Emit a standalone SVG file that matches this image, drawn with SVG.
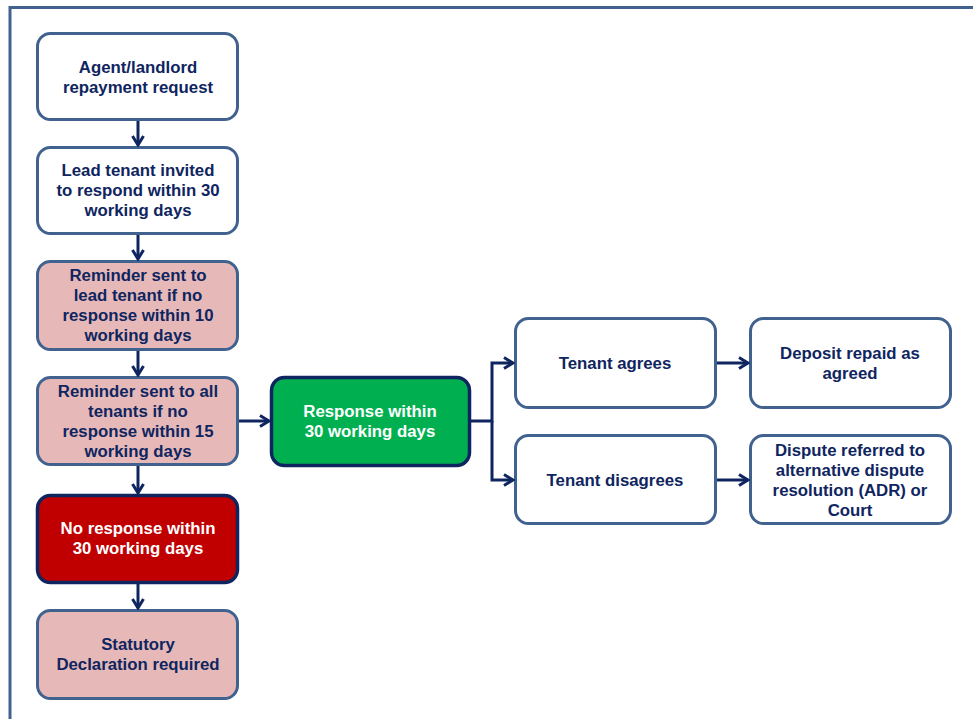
<svg xmlns="http://www.w3.org/2000/svg" width="973" height="719" viewBox="0 0 973 719">
<defs>
<style>
.n{stroke:#41628F;stroke-width:3}
.w{fill:#FFFFFF}
.p{fill:#E6B9B8}
.d{stroke:#0F2560;stroke-width:3.5}
.t{font-family:"Liberation Sans",Arial,sans-serif;font-weight:bold;font-size:16.8px;fill:#0F2560;text-anchor:middle}
.tw{fill:#FFFFFF}
.c{fill:none;stroke:#0F2560;stroke-width:3}
</style>
<marker id="ah" viewBox="0 0 14 14" refX="12" refY="7" markerWidth="14" markerHeight="14" markerUnits="userSpaceOnUse" orient="auto">
<path d="M3,1.5 L12,7 L3,12.5" fill="none" stroke="#0F2560" stroke-width="3"/>
</marker>
</defs>
<rect width="973" height="719" fill="#FFFFFF"/>
<path d="M10,719 V7.5 H973" fill="none" stroke="#41628F" stroke-width="3"/>

<g id="n1"><rect class="n w" x="37.5" y="33.5" width="200" height="86" rx="13"/>
<text class="t" x="138" y="73">Agent/landlord</text><text class="t" x="138" y="93">repayment request</text></g>

<g id="n2"><rect class="n w" x="37.5" y="147.5" width="200" height="86" rx="13"/>
<text class="t" x="138" y="176">Lead tenant invited</text><text class="t" x="138" y="196">to respond within 30</text><text class="t" x="138" y="216">working days</text></g>

<g id="n3"><rect class="n p" x="37.5" y="261.5" width="200" height="88" rx="13"/>
<text class="t" x="138" y="281">Reminder sent to</text><text class="t" x="138" y="301">lead tenant if no</text><text class="t" x="138" y="321">response within 10</text><text class="t" x="138" y="341">working days</text></g>

<g id="n4"><rect class="n p" x="37.5" y="377.5" width="200" height="87" rx="13"/>
<text class="t" x="138" y="397">Reminder sent to all</text><text class="t" x="138" y="417">tenants if no</text><text class="t" x="138" y="437">response within 15</text><text class="t" x="138" y="457">working days</text></g>

<g id="n5"><rect class="d" fill="#C00000" x="37.5" y="495.5" width="200" height="87" rx="13"/>
<text class="t tw" x="138" y="534">No response within</text><text class="t tw" x="138" y="554">30 working days</text></g>

<g id="n6"><rect class="n p" x="37.5" y="610.5" width="200" height="88" rx="13"/>
<text class="t" x="138" y="650">Statutory</text><text class="t" x="138" y="670">Declaration required</text></g>

<g id="n7"><rect class="d" fill="#00B050" x="271.5" y="377.5" width="198" height="88" rx="13"/>
<text class="t tw" x="370" y="417">Response within</text><text class="t tw" x="370" y="437">30 working days</text></g>

<g id="n8"><rect class="n w" x="515.5" y="318.5" width="200" height="89" rx="13"/>
<text class="t" x="615" y="369">Tenant agrees</text></g>

<g id="n9"><rect class="n w" x="515.5" y="435.5" width="200" height="88" rx="13"/>
<text class="t" x="615" y="486">Tenant disagrees</text></g>

<g id="n10"><rect class="n w" x="750.5" y="318.5" width="200" height="89" rx="13"/>
<text class="t" x="850" y="359">Deposit repaid as</text><text class="t" x="850" y="379">agreed</text></g>

<g id="n11"><rect class="n w" x="750.5" y="435.5" width="200" height="88" rx="13"/>
<text class="t" x="850" y="456">Dispute referred to</text><text class="t" x="850" y="476">alternative dispute</text><text class="t" x="850" y="496">resolution (ADR) or</text><text class="t" x="850" y="516">Court</text></g>

<g id="connectors">
<path class="c" d="M138,121 V145" marker-end="url(#ah)"/>
<path class="c" d="M138,235 V259" marker-end="url(#ah)"/>
<path class="c" d="M138,351 V375" marker-end="url(#ah)"/>
<path class="c" d="M138,466 V493" marker-end="url(#ah)"/>
<path class="c" d="M138,584 V608" marker-end="url(#ah)"/>
<path class="c" d="M239,421 H269" marker-end="url(#ah)"/>
<path class="c" d="M471,421 H492 V363 H513" marker-end="url(#ah)"/>
<path class="c" d="M492,421 V480 H513" marker-end="url(#ah)"/>
<path class="c" d="M717,363 H748" marker-end="url(#ah)"/>
<path class="c" d="M717,480 H748" marker-end="url(#ah)"/>
</g>
</svg>
